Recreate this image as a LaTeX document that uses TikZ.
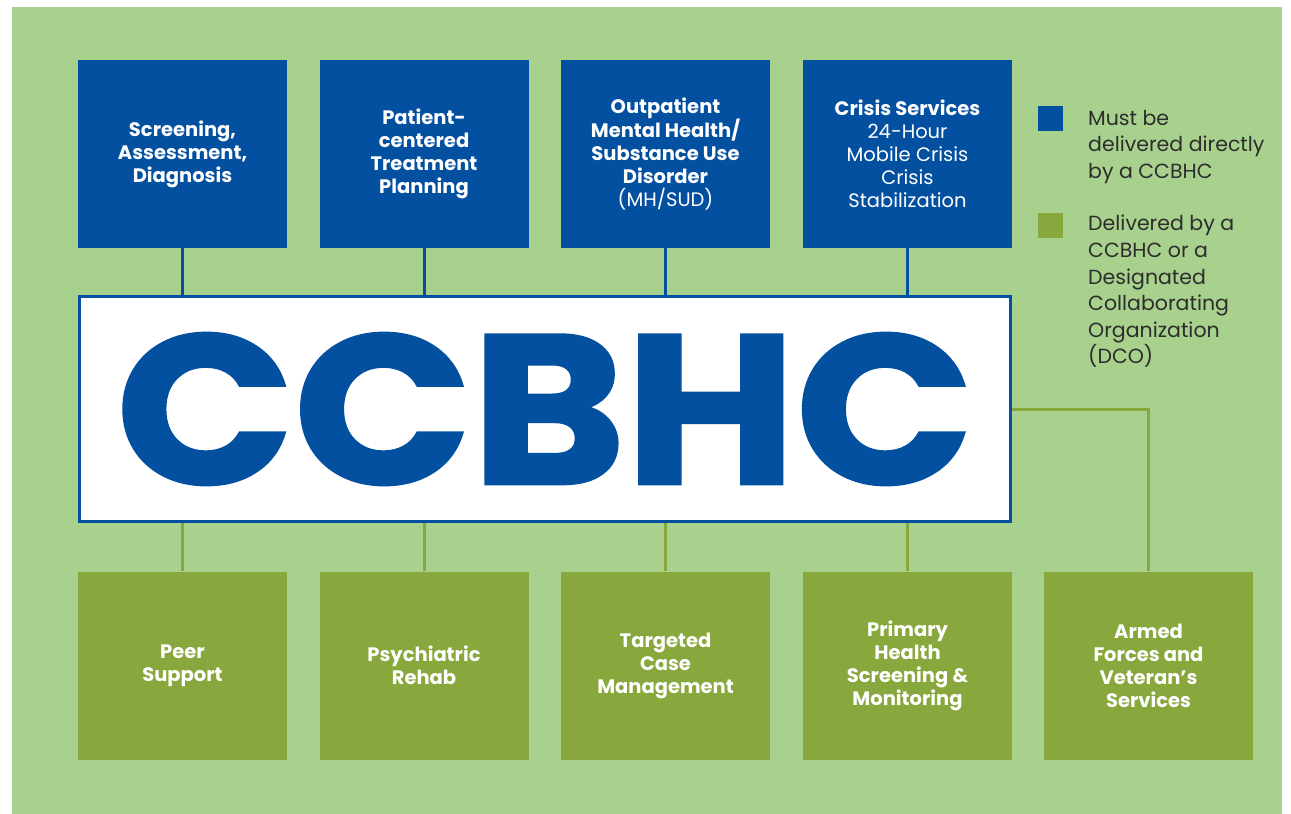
\documentclass[tikz,border=0pt]{standalone}
\usepackage{fontspec}
\setmainfont{Poppins}
\definecolor{ccblue}{RGB}{4,80,160}
\definecolor{bggreen}{RGB}{169,209,142}
\definecolor{boxgreen}{RGB}{136,167,60}
\definecolor{legendgray}{RGB}{45,45,45}

\begin{document}
\begin{tikzpicture}[x=1pt,y=-1pt,
    direct/.style={fill=ccblue, text=white, minimum width=209pt, minimum height=188pt,
        inner sep=0pt, align=center, font=\bfseries\fontsize{19.5}{23}\selectfont},
    dco/.style={direct, fill=boxgreen},
    blueline/.style={draw=ccblue, line width=3pt},
    greenline/.style={draw=boxgreen, line width=3pt},
    swatch/.style={minimum size=25pt, inner sep=0pt},
    legend/.style={anchor=north west, inner sep=0pt, align=left, text=legendgray,
        font=\fontsize{20.5}{26.6}\selectfont}]

    \useasboundingbox (0,0) rectangle (1291,814);
    \fill[white] (0,0) rectangle (1291,814);
    \fill[bggreen] (12,7) rectangle (1282,814);

    % services delivered directly
    \node[direct] (a) at (182.5,154)  {Screening,\\Assessment,\\Diagnosis};
    \node[direct] (b) at (424,154)    {Patient-\\centered\\Treatment\\Planning};
    \node[direct] (c) at (665.5,154)  {Outpatient\\Mental Health/\\Substance Use\\Disorder\\\mdseries (MH/SUD)};
    \node[direct] (d) at (907.5,154)  {Crisis Services\\\mdseries 24-Hour\\\mdseries Mobile Crisis\\\mdseries Crisis\\\mdseries Stabilization};

    % the centre
    \node[draw=ccblue, line width=3pt, fill=white, minimum width=931pt, minimum height=225pt,
        inner sep=0pt, text=ccblue, font=\bfseries\fontsize{212}{212}\selectfont\addfontfeatures{FakeBold=1.5}]
        (hub) at (545,409) {\scalebox{1.1}[1]{CCBHC}};

    % services by a CCBHC or a DCO
    \node[dco] (e) at (182.5,665.5)  {Peer\\Support};
    \node[dco] (f) at (424,665.5)    {Psychiatric\\Rehab};
    \node[dco] (g) at (665.5,665.5)  {Targeted\\Case\\Management};
    \node[dco] (h) at (907.5,665.5)  {Primary\\Health\\Screening \&\\Monitoring};
    \node[dco] (i) at (1148.5,665.5) {Armed\\Forces and\\Veteran’s\\Services};

    \path[blueline] (a.south) edge (a.south |- hub.north);
    \path[blueline] (b.south) edge (b.south |- hub.north);
    \path[blueline] (c.south) edge (c.south |- hub.north);
    \path[blueline] (d.south) edge (d.south |- hub.north);

    \path[greenline] (e.north) edge (e.north |- hub.south);
    \path[greenline] (f.north) edge (f.north |- hub.south);
    \path[greenline] (g.north) edge (g.north |- hub.south);
    \path[greenline] (h.north) edge (h.north |- hub.south);
    \draw[greenline] (hub.east) -| (i.north);

    % legend
    \node[swatch, fill=ccblue] (k) at (1050,118) {};
    \node[swatch, fill=boxgreen] (l) at (1050,225) {};
    \node[legend] (m) at (1088,110) {Must be\\delivered directly\\by a CCBHC};
    \node[legend] (n) at (1088,215) {Delivered by a\\CCBHC or a\\Designated\\Collaborating\\Organization\\(DCO)};

\end{tikzpicture}
\end{document}
